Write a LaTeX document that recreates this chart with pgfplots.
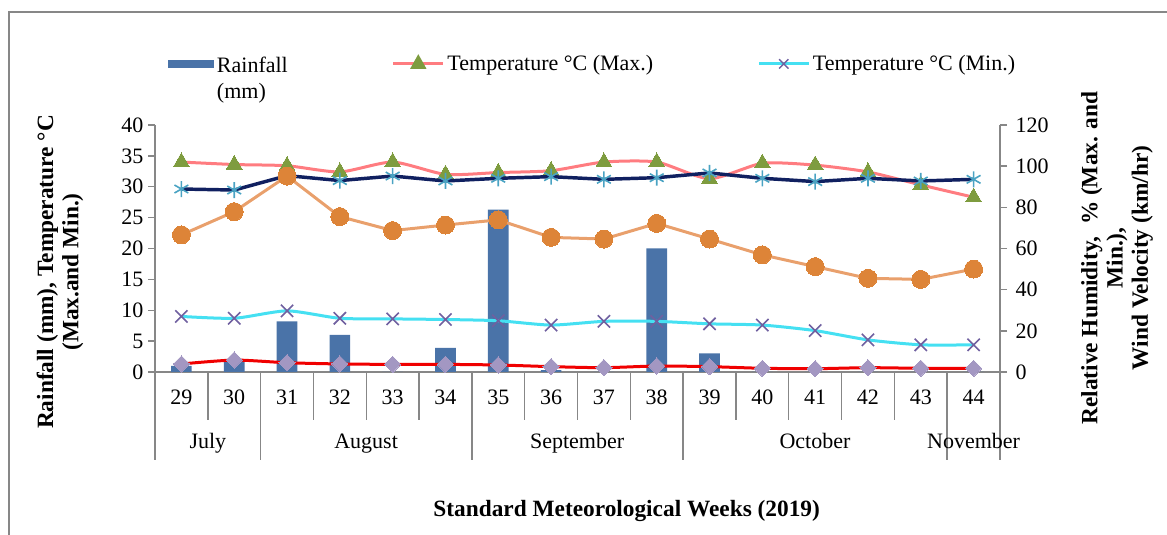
\documentclass[border=0pt]{standalone}
\usepackage{pgfplots}
\usepackage{pgfplotstable}
\pgfplotsset{compat=1.18}
\usepackage{fontspec}
\setmainfont{Liberation Serif}

\definecolor{barblue}{HTML}{4A73A8}
\definecolor{pinkline}{HTML}{FF7C80}
\definecolor{trigreen}{HTML}{7E9C3F}
\definecolor{cyanline}{HTML}{45E0F2}
\definecolor{xpurple}{HTML}{7060A0}
\definecolor{navyline}{HTML}{102060}
\definecolor{astteal}{HTML}{4AA3C3}
\definecolor{orangeline}{HTML}{E9A06C}
\definecolor{orangedot}{HTML}{DD8438}
\definecolor{redline}{HTML}{F00000}
\definecolor{lilac}{HTML}{A397C2}
\definecolor{axisgray}{HTML}{878787}

\pgfplotstableread{
i week rain tmax tmin rhmax rhmin wind
0 29 1.0 34.0 9.0 88.9 66.6 3.9
1 30 2.1 33.6 8.7 88.4 77.9 5.8
2 31 8.2 33.4 9.9 95.4 95.2 4.5
3 32 6.0 32.4 8.7 93.0 75.5 3.9
4 33 0.0 34.0 8.6 95.2 68.7 3.7
5 34 3.9 32.0 8.5 92.8 71.4 3.7
6 35 26.3 32.3 8.3 94.1 73.9 3.4
7 36 0.3 32.6 7.6 94.9 65.4 2.6
8 37 0.0 34.0 8.2 93.6 64.6 2.1
9 38 20.0 34.0 8.2 94.4 72.2 2.9
10 39 3.0 31.3 7.8 96.7 64.6 2.6
11 40 0.0 33.8 7.6 94.1 56.9 1.8
12 41 0.0 33.5 6.7 92.5 51.2 1.6
13 42 0.0 32.4 5.2 94.1 45.5 2.1
14 43 0.0 30.3 4.4 92.8 45.0 1.8
15 44 0.0 28.3 4.4 93.6 50.0 1.8
}\data

\newcommand{\fs}{\fontsize{16.5}{19.5}\selectfont}
\newcommand{\fb}{\fontsize{17.5}{19}\selectfont\bfseries}

\pgfplotsset{
  base/.style={
    scale only axis, width=633.75pt, height=185.25pt,
    at={(116.25pt,122.25pt)}, anchor=south west,
    xmin=-0.5, xmax=15.5, ymin=0, clip=false,
    axis line style={axisgray, line width=1.1pt},
    every tick/.style={axisgray, line width=1.1pt},
    tick align=outside, major tick length=5.25pt,
    tick label style={font=\fs},
    /pgf/number format/assume math mode=true,
  }
}

\begin{document}
\begin{tikzpicture}
\path[use as bounding box] (0,0) rectangle (875.25pt,401.25pt);
\draw[line width=1.5pt, axisgray] (6.75pt,-3pt) -- (6.75pt,392.25pt) -- (880pt,392.25pt);

\begin{axis}[base,
  ymax=40, ytick={0,5,...,40},
  axis y line*=left, axis x line*=bottom,
  xtick={0,...,15},
  xticklabels={29,30,31,32,33,34,35,36,37,38,39,40,41,42,43,44},
  xtick style={draw=none},
  x tick label style={anchor=center, yshift=-14pt},
  legend style={at={(axis description cs:0.0154,1.30)}, anchor=north west,
    draw=none, fill=none, inner sep=0pt, font=\fs, legend columns=3,
    /tikz/every even column/.append style={column sep=76pt},
    cells={anchor=west}},
]
\addplot[ybar, bar width=15.5pt, fill=barblue, draw=none,
  legend image code/.code={\fill[barblue] (0pt,-3.2pt) rectangle (34.5pt,3.2pt);}]
  table[x=i, y=rain]{\data};
\addlegendentry{\raisebox{0pt}[\height][0pt]{\begin{tabular}[t]{@{}l@{}}Rainfall\\(mm)\end{tabular}}}

\addplot[pinkline, line width=2.25pt, smooth, tension=0.4, mark=triangle*, mark size=6.8pt,
  mark options={fill=trigreen, draw=trigreen, line width=0pt, solid},
  legend image code/.code={\draw[pinkline, line width=2.25pt] (0pt,0pt) -- (37.5pt,0pt);
     \fill[trigreen] (18.75pt,0pt) ++(0pt,5pt) -- ++(-4.2pt,-7.5pt) -- ++(8.4pt,0pt) -- cycle;}]
  table[x=i, y=tmax]{\data};
\addlegendentry{Temperature °C (Max.)}

\addplot[cyanline, line width=2.25pt, smooth, tension=0.4, mark=x, mark size=6.5pt,
  mark options={draw=xpurple, line width=1.2pt, solid},
  legend image code/.code={\draw[cyanline, line width=2.25pt] (0pt,0pt) -- (37.5pt,0pt);
     \draw[xpurple, line width=1.1pt] (15.25pt,-3.5pt) -- (22.25pt,3.5pt) (15.25pt,3.5pt) -- (22.25pt,-3.5pt);}]
  table[x=i, y=tmin]{\data};
\addlegendentry{Temperature °C (Min.)}
\end{axis}

\begin{axis}[base,
  ymax=120, ytick={0,20,...,120},
  axis y line*=right, axis x line=none,
  y tick label style={xshift=3pt},
]
\addplot[navyline, line width=2.6pt, mark=asterisk, mark size=6pt,
  mark options={draw=astteal, line width=1.2pt, solid}]
  table[x=i, y=rhmax]{\data};
\addplot[orangeline, line width=2.25pt, mark=*, mark size=6.75pt,
  mark options={fill=orangedot, draw=orangedot, line width=0pt, solid}]
  table[x=i, y=rhmin]{\data};
\addplot[redline, line width=2.25pt, smooth, tension=0.4, mark=square*, mark size=4.3pt,
  mark options={fill=lilac, draw=lilac, line width=0pt, rotate=45, solid}]
  table[x=i, y=wind]{\data};
\end{axis}

% category separators
\foreach \k in {0,...,16} {
  \draw[axisgray, line width=1.1pt] ({116.25pt+\k*39.609375pt},122.25pt) -- ++(0pt,-36pt);
}
\foreach \k in {0,2,6,10,15,16} {
  \draw[axisgray, line width=1.1pt] ({116.25pt+\k*39.609375pt},122.25pt) -- ++(0pt,-66pt);
}
\foreach \x/\t in {155.9/July, 274.6/August, 432.8/September, 611.2/October, 730.2/November} {
  \node[font=\fs, anchor=base] at (\x pt, 64.5pt) {\t};
}

\node[rotate=90, align=center, font=\fb] at (45pt,197.25pt)
  {Rainfall (mm), Temperature °C\\(Max.and Min.)};
\node[rotate=90, align=center, font=\fb] at (837.75pt,207.75pt)
  {Relative Humidity,\ \ \% (Max. and\\Min.),\\Wind Velocity (km/hr)};
\node[font=\fb] at (470pt,18pt) {Standard Meteorological Weeks (2019)};
\end{tikzpicture}
\end{document}
